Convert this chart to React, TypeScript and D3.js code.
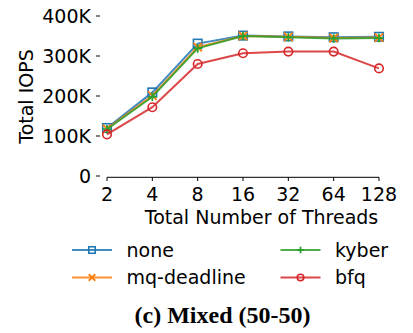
import * as d3 from "d3";
import React from "react";

const threads = ["2", "4", "8", "16", "32", "64", "128"];
const none = [120, 209, 331, 351, 349, 347, 348];
const mqDeadline = [118, 201, 322, 350, 348, 345, 346];
const kyber = [117, 198, 319, 350, 347, 344, 345];
const bfq = [104, 172, 280, 307, 311, 311, 269];
const yTicks = [0, 100, 200, 300, 400];
const yTickLabels = ["0", "100K", "200K", "300K", "400K"];

const series = [
  { name: "none", values: none, color: "#1f77b4", marker: "square" },
  { name: "mq-deadline", values: mqDeadline, color: "#ff7f0e", marker: "x" },
  { name: "kyber", values: kyber, color: "#2ca02c", marker: "plus" },
  { name: "bfq", values: bfq, color: "#d62728", marker: "circle" },
];

const font = "DejaVu Sans, sans-serif";
const fs = 19;

function Marker({ type, x, y, color, s }: { type: string; x: number; y: number; color: string; s: number }) {
  const h = s / 2;
  if (type === "square")
    return <rect x={x - h} y={y - h} width={s} height={s} fill="none" stroke={color} strokeWidth={1.6} />;
  if (type === "circle")
    return <circle cx={x} cy={y} r={h} fill="none" stroke={color} strokeWidth={1.6} />;
  if (type === "x")
    return (
      <path d={`M${x - h},${y - h}L${x + h},${y + h}M${x - h},${y + h}L${x + h},${y - h}`} stroke={color} strokeWidth={1.8} />
    );
  return <path d={`M${x - h},${y}L${x + h},${y}M${x},${y - h}L${x},${y + h}`} stroke={color} strokeWidth={1.8} />;
}

export default function App() {
  const width = 413;
  const height = 333;

  const x = d3.scalePoint<string>().domain(threads).range([107, 379]);
  const y = d3.scaleLinear().domain([0, 400]).range([176, 16]);

  const line = d3
    .line<number>()
    .x((_, i) => x(threads[i]) as number)
    .y((d) => y(d));

  const legendRows = [
    [series[0], series[2]],
    [series[1], series[3]],
  ];
  const legendCols = [72, 280.5];
  const legendY = [250, 277.5];

  return (
    <svg width={width} height={height} style={{ position: "absolute", left: 0, top: 0 }}>
      <rect width={width} height={height} fill="#fff" />
      {/* y ticks */}
      {yTicks.map((t, i) => (
        <g key={t}>
          <line x1={96} x2={100} y1={y(t)} y2={y(t)} stroke="#000" strokeWidth={1} />
          <text x={91} y={y(t)} dy="0.36em" textAnchor="end" fontFamily={font} fontSize={fs}>
            {yTickLabels[i]}
          </text>
        </g>
      ))}
      {/* x axis */}
      <line x1={107} x2={379} y1={177.3} y2={177.3} stroke="#000" strokeWidth={1} />
      {threads.map((t) => (
        <g key={t}>
          <line x1={x(t)} x2={x(t)} y1={177.3} y2={181} stroke="#000" strokeWidth={1} />
          <text x={x(t)} y={200.5} textAnchor="middle" fontFamily={font} fontSize={fs}>
            {t}
          </text>
        </g>
      ))}
      <text x={261.5} y={223.5} textAnchor="middle" fontFamily={font} fontSize={fs}>
        Total Number of Threads
      </text>
      <text
        transform={`translate(33,96.5) rotate(-90)`}
        textAnchor="middle"
        fontFamily={font}
        fontSize={fs}
      >
        Total IOPS
      </text>
      {/* series */}
      {series.map((s) => (
        <g key={s.name}>
          <path d={line(s.values) ?? ""} fill="none" stroke={s.color} strokeWidth={2} strokeOpacity={0.85} />
          {s.values.map((v, i) => (
            <Marker key={i} type={s.marker} x={x(threads[i]) as number} y={y(v)} color={s.color} s={8.5} />
          ))}
        </g>
      ))}
      {/* legend */}
      {legendRows.map((row, r) =>
        row.map((s, c) => (
          <g key={s.name}>
            <line
              x1={legendCols[c]}
              x2={legendCols[c] + 40}
              y1={legendY[r]}
              y2={legendY[r]}
              stroke={s.color}
              strokeWidth={2}
              strokeOpacity={0.85}
            />
            <Marker type={s.marker} x={legendCols[c] + 20} y={legendY[r]} color={s.color} s={6.5} />
            <text x={legendCols[c] + 54.5} y={legendY[r]} dy="0.36em" fontFamily={font} fontSize={fs}>
              {s.name}
            </text>
          </g>
        ))
      )}
      <text
        x={222.5}
        y={323}
        textAnchor="middle"
        fontFamily="Liberation Serif, serif"
        fontWeight="bold"
        fontSize={24}
      >
        (c) Mixed (50-50)
      </text>
    </svg>
  );
}
